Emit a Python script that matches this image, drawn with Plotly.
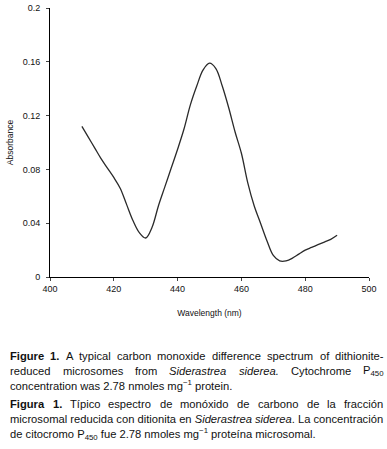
import plotly.graph_objects as go

wavelength = [410, 412, 414, 416, 418, 420, 422, 424, 426, 428, 430, 432, 434, 436, 438,
              440, 442, 444, 446, 448, 450, 452, 454, 456, 458, 460, 462, 464, 466, 468,
              470, 472, 474, 476, 478, 480, 482, 484, 486, 488, 490]
absorbance = [0.112, 0.104, 0.096, 0.088, 0.081, 0.074, 0.066, 0.054, 0.042, 0.033, 0.029,
              0.037, 0.053, 0.067, 0.081, 0.095, 0.110, 0.128, 0.142, 0.154, 0.159, 0.155,
              0.142, 0.126, 0.108, 0.092, 0.070, 0.053, 0.040, 0.027, 0.016, 0.012, 0.012,
              0.014, 0.017, 0.020, 0.022, 0.024, 0.026, 0.028, 0.031]

x_ticks = [400, 420, 440, 460, 480, 500]
y_ticks = [0, 0.04, 0.08, 0.12, 0.16, 0.2]
y_labels = ["0", "0.04", "0.08", "0.12", "0.16", "0.2"]

# Caption lines. Justified lines are lists of (word, style, subscript).
caption_line_1 = [("Figure", "b", ""), ("1.", "b", ""), ("A", "", ""), ("typical", "", ""),
                  ("carbon", "", ""), ("monoxide", "", ""), ("difference", "", ""),
                  ("spectrum", "", ""), ("of", "", ""), ("dithionite-", "", "")]
caption_line_2 = [("reduced", "", ""), ("microsomes", "", ""), ("from", "", ""),
                  ("Siderastrea", "i", ""), ("siderea.", "i", ""), ("Cytochrome", "", ""),
                  ("P", "", "sub450")]
caption_line_3 = "concentration was 2.78 nmoles mg<sup>−1</sup> protein."
caption_line_4 = [("Figura", "b", ""), ("1.", "b", ""), ("Típico", "", ""),
                  ("espectro", "", ""), ("de", "", ""), ("monóxido", "", ""), ("de", "", ""),
                  ("carbono", "", ""), ("de", "", ""), ("la", "", ""), ("fracción", "", "")]
caption_line_5 = ("microsomal reducida con ditionita en <i>Siderastrea siderea</i>. "
                  "La concentración")
caption_line_6 = ("de citocromo P<sub>450</sub> fue 2.78 nmoles mg<sup>−1</sup> "
                  "proteína microsomal.")

font = "Liberation Sans, Arial, sans-serif"
cap_size = 11.2
L, T, PW, PH = 50, 8, 319, 269
TEXT_LEFT, TEXT_RIGHT = 9, 382.5

# Arial / Liberation Sans advance widths (1/1000 em)
REG = {" ": 278, "a": 556, "b": 556, "c": 500, "d": 556, "e": 556, "f": 278, "g": 556,
       "h": 556, "i": 222, "j": 222, "k": 500, "l": 222, "m": 833, "n": 556, "o": 556,
       "p": 556, "q": 556, "r": 333, "s": 500, "t": 278, "u": 556, "v": 500, "w": 722,
       "x": 500, "y": 500, "z": 500, "A": 667, "C": 722, "F": 611, "L": 556, "P": 667,
       "S": 667, ".": 278, "-": 333, "ó": 556, "í": 278}
for dch in "0123456789":
    REG[dch] = 556
BOLD = {"F": 611, "i": 278, "g": 611, "u": 611, "r": 389, "e": 556, "a": 556, "1": 556,
        ".": 278}


def word_width(word, style, extra):
    table = BOLD if style == "b" else REG
    w = sum(table.get(c, REG.get(c, 556)) for c in word)
    if extra.startswith("sub"):
        w += 0.7 * sum(REG[c] for c in extra[3:])
    return w / 1000 * cap_size


def word_html(word, style, extra):
    s = word
    if extra.startswith("sub"):
        s += "<sub>" + extra[3:] + "</sub>"
    if style:
        s = "<%s>%s</%s>" % (style, s, style)
    return s


fig = go.Figure()
fig.add_trace(go.Scatter(x=wavelength, y=absorbance, mode="lines",
                         line=dict(color="#2a2a2a", width=1.3, shape="spline"),
                         showlegend=False, hoverinfo="skip"))

fig.update_layout(
    width=387, height=449,
    margin=dict(l=L, r=387 - L - PW, t=T, b=449 - T - PH),
    paper_bgcolor="white", plot_bgcolor="white",
    font=dict(family=font, size=9, color="#111111"),
    xaxis=dict(range=[400, 500], tickvals=x_ticks, ticks="outside", ticklen=3,
               showline=True, linecolor="black", linewidth=1, showgrid=False,
               zeroline=False, automargin=False,
               title=dict(text="Wavelength (nm)", font=dict(size=8.5), standoff=17),
               tickfont=dict(size=9)),
    yaxis=dict(range=[0, 0.2], tickvals=y_ticks, ticktext=y_labels, ticks="outside", ticklen=3,
               showline=True, linecolor="black", linewidth=1, showgrid=False,
               zeroline=False, automargin=False, ticklabelstandoff=4,
               title=dict(text="Absorbance", font=dict(size=8.5), standoff=7),
               tickfont=dict(size=9)),
)


def px_x(px):
    return (px - L) / PW


def px_y(py):
    return 1 - (py - T) / PH


def add_text(txt, xpx, ypx):
    fig.add_annotation(text=txt, xref="paper", yref="paper", x=px_x(xpx - 1), xanchor="left",
                       y=px_y(ypx), yanchor="middle", showarrow=False, align="left",
                       font=dict(size=cap_size, family=font, color="#111111"))


def add_justified(words, ypx):
    widths = [word_width(*w) for w in words]
    gap = (TEXT_RIGHT - TEXT_LEFT - sum(widths)) / (len(words) - 1)
    xcur = TEXT_LEFT
    for w, wd in zip(words, widths):
        add_text(word_html(*w), xcur, ypx)
        xcur += wd + gap


line_y = [356, 371, 385, 404, 419, 434]
add_justified(caption_line_1, line_y[0])
add_justified(caption_line_2, line_y[1])
add_text(caption_line_3, TEXT_LEFT, line_y[2])
add_justified(caption_line_4, line_y[3])
add_text(caption_line_5, TEXT_LEFT, line_y[4])
add_text(caption_line_6, TEXT_LEFT, line_y[5])

fig.write_html("out.html", config={"displayModeBar": False},
               post_script="document.body.style.margin='0px';")
